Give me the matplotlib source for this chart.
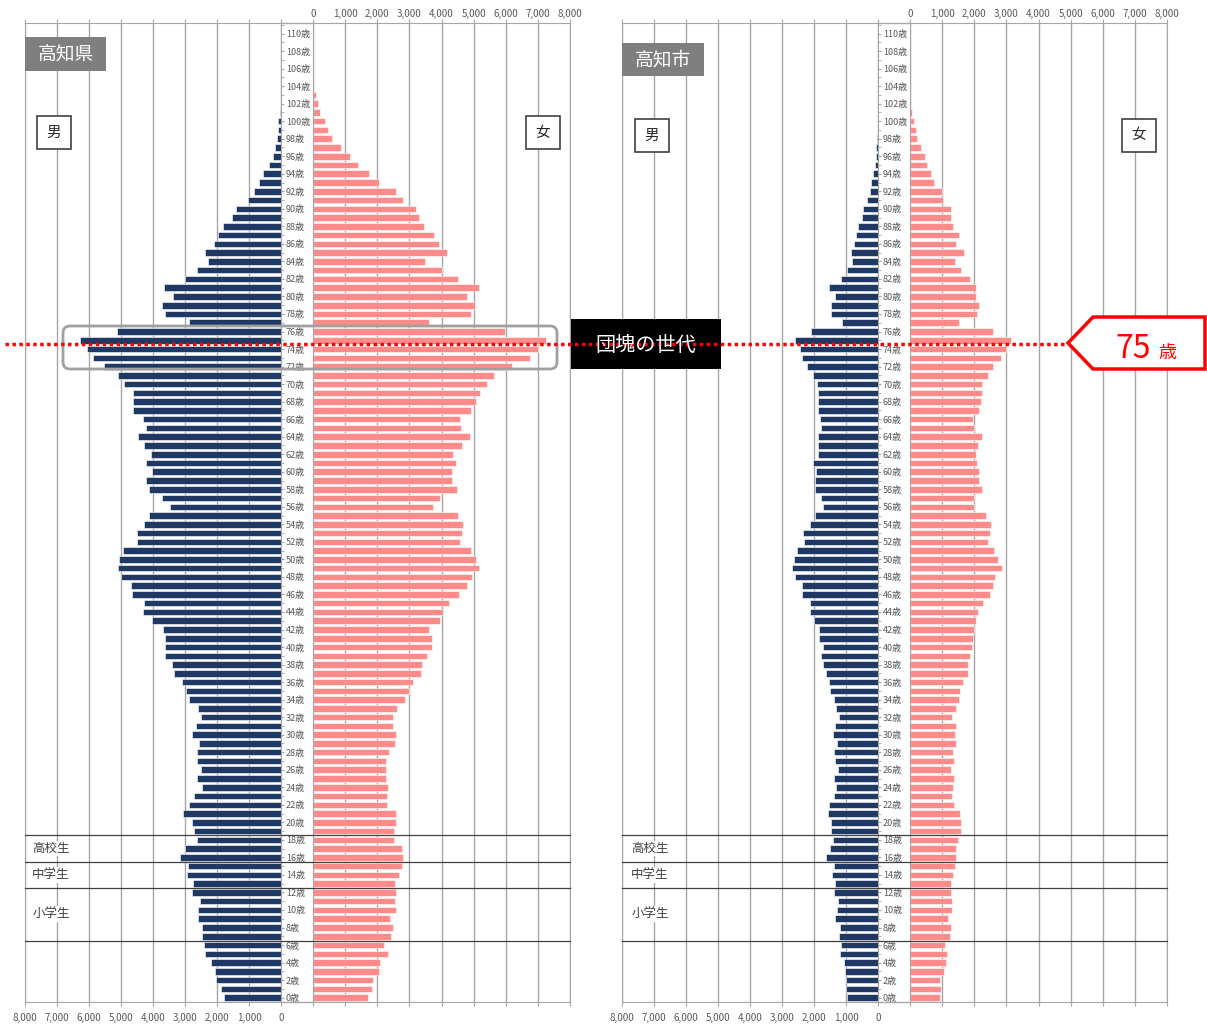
import matplotlib.pyplot as plt
from matplotlib.patches import FancyBboxPatch, Polygon, Rectangle
from matplotlib.lines import Line2D
from matplotlib.transforms import Affine2D, blended_transform_factory
from matplotlib.ticker import MultipleLocator, FuncFormatter

plt.rcParams['font.family'] = ['Noto Sans CJK JP', 'DejaVu Sans']

W, H = 1207, 1025
ages = list(range(111))

# 高知県 (age 0 -> 110)
pref_male = [1790, 1890, 2030, 2070, 2190, 2360, 2410, 2460, 2460, 2600,
             2590, 2530, 2770, 2740, 2940, 2920, 3170, 3010, 2630, 2720,
             2790, 3070, 2880, 2710, 2480, 2620, 2510, 2640, 2610, 2560,
             2780, 2660, 2500, 2600, 2860, 2980, 3100, 3340, 3400, 3610,
             3630, 3640, 3680, 4020, 4310, 4290, 4660, 4690, 5000, 5090,
             5060, 4930, 4500, 4500, 4270, 4130, 3470, 3730, 4110, 4210,
             4030, 4230, 4070, 4270, 4460, 4210, 4310, 4620, 4620, 4620,
             4900, 5090, 5540, 5870, 6070, 6280, 5140, 2860, 3640, 3710,
             3360, 3670, 2990, 2640, 2280, 2390, 2100, 1955, 1800, 1520,
             1420, 1030, 845, 700, 555, 380, 245, 200, 130, 100,
             80, 30, 10, 0, 0, 0, 0, 0, 0, 0, 0]
pref_female = [1720, 1840, 1880, 2070, 2080, 2330, 2200, 2420, 2500, 2410,
               2570, 2540, 2570, 2540, 2670, 2760, 2800, 2770, 2520, 2510,
               2590, 2590, 2310, 2300, 2340, 2280, 2280, 2280, 2370, 2540,
               2590, 2490, 2490, 2630, 2860, 2990, 3110, 3370, 3390, 3560,
               3710, 3690, 3600, 3940, 4040, 4240, 4530, 4800, 4960, 5170,
               5070, 4920, 4570, 4630, 4660, 4520, 3730, 3940, 4490, 4340,
               4340, 4440, 4360, 4640, 4890, 4620, 4580, 4930, 5080, 5200,
               5410, 5640, 6190, 6770, 7010, 7260, 5970, 3610, 4920, 5040,
               4780, 5170, 4520, 4010, 3500, 4160, 3910, 3770, 3460, 3310,
               3210, 2790, 2570, 2070, 1745, 1390, 1140, 880, 590, 480,
               360, 220, 170, 100, 40, 15, 10, 5, 5, 0, 0]

# 高知市 (age 0 -> 110)
city_male = [960, 990, 1010, 1030, 1050, 1190, 1160, 1230, 1190, 1340,
             1280, 1250, 1370, 1340, 1440, 1370, 1620, 1500, 1400, 1480,
             1460, 1570, 1520, 1380, 1310, 1370, 1250, 1330, 1360, 1290,
             1420, 1330, 1220, 1310, 1390, 1500, 1520, 1630, 1710, 1780,
             1730, 1830, 1830, 2010, 2120, 2140, 2380, 2370, 2590, 2690,
             2610, 2540, 2310, 2350, 2130, 1980, 1730, 1790, 1980, 1970,
             1950, 2030, 1870, 1870, 1870, 1790, 1810, 1860, 1890, 1870,
             1910, 2030, 2220, 2370, 2430, 2580, 2090, 1140, 1480, 1480,
             1330, 1530, 1170, 980, 810, 830, 750, 700, 630, 510,
             480, 340, 260, 220, 160, 100, 60, 60, 20, 10,
             5, 0, 0, 0, 0, 0, 0, 0, 0, 0, 0]
city_female = [920, 970, 940, 1060, 1120, 1150, 1080, 1230, 1290, 1180,
               1320, 1320, 1270, 1290, 1330, 1400, 1440, 1440, 1490, 1600,
               1600, 1560, 1380, 1310, 1330, 1360, 1270, 1360, 1330, 1440,
               1410, 1420, 1320, 1420, 1510, 1550, 1640, 1800, 1790, 1880,
               1920, 1970, 1990, 2070, 2110, 2260, 2480, 2570, 2650, 2850,
               2750, 2600, 2420, 2480, 2520, 2360, 1980, 2000, 2230, 2150,
               2160, 2100, 2070, 2130, 2230, 2000, 1970, 2160, 2220, 2240,
               2240, 2440, 2590, 2840, 3000, 3130, 2590, 1520, 2100, 2150,
               2050, 2070, 1880, 1600, 1400, 1670, 1440, 1530, 1340, 1270,
               1270, 1020, 990, 760, 660, 520, 470, 340, 220, 190,
               110, 60, 30, 20, 10, 5, 5, 0, 0, 0, 0]

school_labels = ['高校生', '中学生', '小学生']
school_bounds = [18.5, 15.5, 12.5, 6.5]
highlight_age = 74.6

NAVY = '#1F3864'
PINK = '#FF8B8B'
GRID = '#A6A6A6'
TXT = '#595959'

fig = plt.figure(figsize=(W / 100, H / 100), dpi=100)
# reference-pixel coordinates (y down) for the annotation boxes
ref = Affine2D().scale(1 / W, -1 / H).translate(0, 1) + fig.transFigure

TOP, BOTTOM = 23, 1002


def rect(x0, x1):
    return [x0 / W, 1 - BOTTOM / H, (x1 - x0) / W, (BOTTOM - TOP) / H]


def label_box(x, y, w, h, text):
    fig.add_artist(Rectangle((x, y), w, h, transform=ref, facecolor='white',
                             edgecolor='#404040', lw=1.2))
    fig.text(x + w / 2, y + h / 2, text, transform=ref, ha='center', va='center',
             fontsize=10.5, color='#262626')


def panel(x_m, x_f, male, female, title, title_xy, male_xy, female_xy, lab_x):
    ax_m = fig.add_axes(rect(*x_m))
    ax_f = fig.add_axes(rect(*x_f))
    ax_m.barh(ages, male, height=0.75, color=NAVY, edgecolor='white', linewidth=0.4)
    ax_f.barh(ages, female, height=0.75, color=PINK, edgecolor='white', linewidth=0.4)
    for ax in (ax_m, ax_f):
        ax.set_ylim(-0.5, 111.2)
        ax.set_xticks(range(0, 8001, 1000))
        ax.xaxis.set_major_formatter(FuncFormatter(lambda v, p: f'{int(v):,}'))
        ax.grid(axis='x', color=GRID, lw=1)
        ax.set_axisbelow(True)
        for s in ax.spines.values():
            s.set_color(GRID)
        ax.tick_params(axis='x', which='both', top=True, bottom=True, length=3,
                       color=GRID, labelsize=7, labelcolor=TXT)
    ax_m.set_xlim(8000, 0)
    ax_f.set_xlim(0, 8000)
    ax_m.tick_params(axis='x', labeltop=False, labelbottom=True, pad=5)
    ax_f.tick_params(axis='x', labeltop=True, labelbottom=False, pad=0)
    ax_f.set_yticks([])
    ax_m.yaxis.tick_right()
    ax_m.set_yticks(ages[::2])
    ax_m.set_yticklabels([f'{a}歳' for a in ages[::2]])
    ax_m.yaxis.set_minor_locator(MultipleLocator(1))
    ax_m.tick_params(axis='y', which='both', length=2.5, color=GRID,
                     labelsize=6.5, labelcolor=TXT, pad=1)

    # top / bottom lines across the age column
    for y in (TOP, BOTTOM):
        fig.add_artist(Line2D([x_m[1], x_f[0]], [y, y], transform=ref, color=GRID, lw=1))

    # school groups
    bt = blended_transform_factory(fig.transFigure, ax_m.transData)
    for b in school_bounds:
        fig.add_artist(Line2D([x_m[0] / W, x_f[1] / W], [b, b], transform=bt,
                              color='#404040', lw=0.9))
    bt_ax = blended_transform_factory(ax_m.transAxes, ax_m.transData)
    for i, name in enumerate(school_labels):
        y = (school_bounds[i] + school_bounds[i + 1]) / 2
        ax_m.text((lab_x - x_m[0]) / (x_m[1] - x_m[0]), y, name, transform=bt_ax,
                  ha='center', va='center', fontsize=9, color='#404040',
                  bbox=dict(facecolor='white', edgecolor='none', pad=1))

    # title
    tx, ty, tw, th = title_xy
    fig.add_artist(Rectangle((tx, ty), tw, th, transform=ref, facecolor='#7F7F7F',
                             edgecolor='none'))
    fig.text(tx + tw / 2, ty + th / 2 + 1, title, transform=ref, ha='center', va='center',
             fontsize=13.5, color='white')
    label_box(*male_xy, 34, 33, '男')
    label_box(*female_xy, 34, 33, '女')
    return ax_m


ax_left = panel((25, 281), (313, 570), pref_male, pref_female, '高知県',
                (25, 37, 81, 34), (37, 116), (526, 116), 51)
panel((622, 878), (910, 1167), city_male, city_female, '高知市',
      (622, 43, 82, 33), (635, 119), (1122, 119), 650)

# 団塊の世代 highlight
fig.add_artist(FancyBboxPatch((63, 326), 494, 43, transform=ref,
                              boxstyle='round,pad=0,rounding_size=7',
                              facecolor='none', edgecolor='#A0A0A0', lw=2))
bt = blended_transform_factory(fig.transFigure, ax_left.transData)
fig.add_artist(Line2D([5 / W, 1068 / W], [highlight_age, highlight_age], transform=bt,
                      color='#FF0000', lw=2.5, linestyle=(0, (1, 1))))
fig.add_artist(Rectangle((571, 319), 150, 50, transform=ref, facecolor='black',
                         edgecolor='none'))
fig.text(646, 345, '団塊の世代', transform=ref, ha='center', va='center',
         fontsize=14.5, color='white')

fig.add_artist(Polygon([(1068, 343), (1093, 317), (1205, 317), (1205, 369), (1093, 369)],
                       closed=True, transform=ref, facecolor='white',
                       edgecolor='#FF0000', lw=2.5))
fig.text(1115, 358, '75', transform=ref, ha='left', va='baseline',
         fontsize=23, color='#FF0000')
fig.text(1158, 358, '歳', transform=ref, ha='left', va='baseline',
         fontsize=13, color='#FF0000')

fig.savefig('out.png', dpi=100)
